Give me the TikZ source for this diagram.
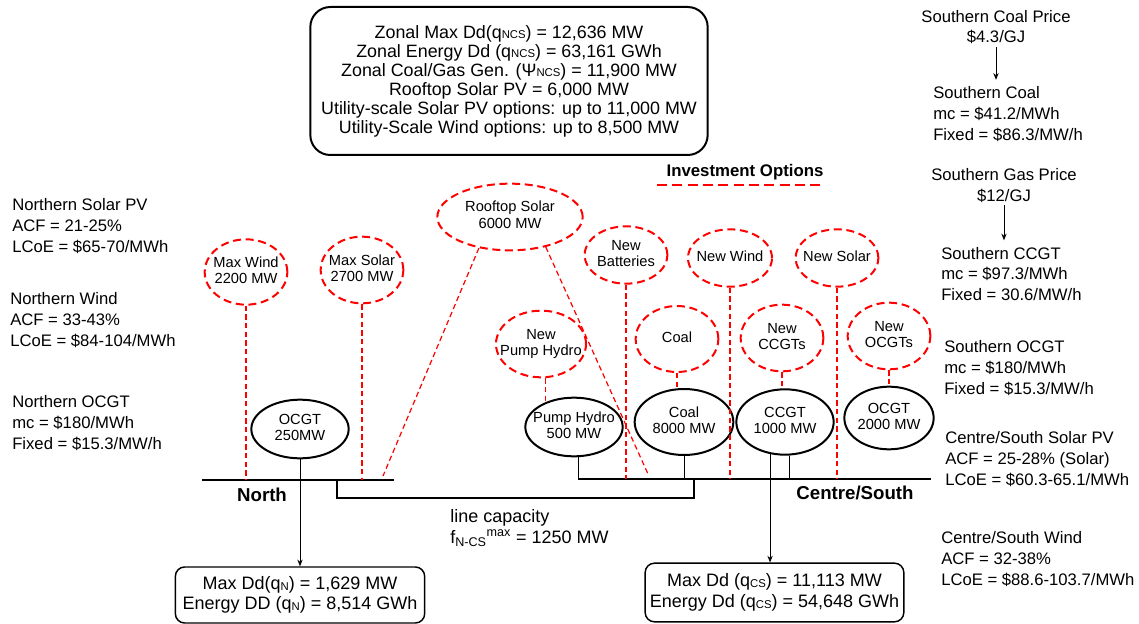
\documentclass[tikz,border=0pt]{standalone}
\usepackage{fontspec}
\setmainfont{Liberation Sans}
\usetikzlibrary{arrows.meta,positioning,shapes.geometric,calc}
\newcommand\sml[1]{{\fontsize{8.5}{8.5}\selectfont\raisebox{-0.6pt}{#1}}}
\newcommand\etxt[1]{\makebox[0pt]{\begin{tabular}{@{}c@{}}#1\end{tabular}}}
\tikzset{
  >={Stealth[length=5pt,width=4pt]},
  invest/.style={ellipse,draw=red,line width=1.5pt,dash pattern=on 6pt off 3.5pt,
    inner sep=0pt,font=\fontsize{11}{12.5}\selectfont,minimum width=62pt,minimum height=43pt},
  plant/.style={ellipse,draw=black,line width=1.5pt,inner sep=0pt,
    font=\fontsize{11}{12.5}\selectfont,minimum width=73pt,minimum height=44pt},
  optlink/.style={draw=red,line width=0.9pt,dash pattern=on 4pt off 2.5pt},
  feed/.style={draw=black,line width=0.6pt},
  bus/.style={draw=black,line width=2.2pt},
  info/.style={anchor=west,align=left,inner sep=0pt,font=\fontsize{12.5}{15.5}\selectfont},
  price/.style={align=center,inner sep=2pt,font=\fontsize{12.5}{15.5}\selectfont},
  zone/.style={font=\fontsize{14}{16}\selectfont\bfseries},
  demand/.style={draw,rounded corners=7pt,line width=1.1pt,align=center,inner sep=2pt,
    font=\fontsize{13.5}{15.5}\selectfont,minimum width=187pt,minimum height=42pt},
}

\begin{document}
\begin{tikzpicture}[x=0.75pt,y=-0.75pt]
    \useasboundingbox (0,0) rectangle (1139,624);
    % system summary
    \node[draw,rounded corners=15pt,line width=1.5pt,minimum width=298pt,minimum height=111pt,
      align=center,font=\fontsize{13.4}{14.25}\selectfont] (zonal) at (509,81)
      {Zonal Max Dd(q\sml{NCS}) = 12,636 MW\\ Zonal Energy Dd (q\sml{NCS}) = 63,161 GWh\\
       Zonal Coal/Gas Gen. (Ψ\sml{NCS}) = 11,900 MW\\ Rooftop Solar PV = 6,000 MW\\
       Utility-scale Solar PV options: up to 11,000 MW\\ Utility-Scale Wind options: up to 8,500 MW};
    % northern data
    \node[info] (nthpv) at (12,226) {Northern Solar PV\\ACF = 21-25\%\\LCoE = \$65-70/MWh};
    \node[info] (nthwind) at (10,320) {Northern Wind\\ACF = 33-43\%\\LCoE = \$84-104/MWh};
    \node[info] (nthocgt) at (12,423) {Northern OCGT\\mc = \$180/MWh\\Fixed = \$15.3/MW/h};
    % southern data
    \node[price] (coalprice) at (996,27) {Southern Coal Price\\\$4.3/GJ};
    \node[info] (sthcoal) at (933,114) {Southern Coal\\mc = \$41.2/MWh\\Fixed = \$86.3/MW/h};
    \node[price] (gasprice) at (1004,185.5) {Southern Gas Price\\\$12/GJ};
    \node[info] (sthccgt) at (941,274) {Southern CCGT\\mc = \$97.3/MWh\\Fixed = 30.6/MW/h};
    \node[info] (sthocgt) at (944,368) {Southern OCGT\\mc = \$180/MWh\\Fixed = \$15.3/MW/h};
    \node[info] (cspv) at (945,459) {Centre/South Solar PV\\ACF = 25-28\% (Solar)\\LCoE = \$60.3-65.1/MWh};
    \node[info] (cswind) at (941,559) {Centre/South Wind\\ACF = 32-38\%\\LCoE = \$88.6-103.7/MWh};
    \draw[feed,->,shorten >=5pt] (coalprice.south) -- (coalprice.south |- sthcoal.north);
    \draw[feed,->,shorten >=5pt] (gasprice.south) -- (gasprice.south |- sthccgt.north);
    % legend
    \node[font=\fontsize{12.6}{14}\selectfont\bfseries] (legend) at (745,172) {Investment Options};
    \coordinate (legW) at (657,185);
    \coordinate (legE) at (821,185);
    \draw[red,line width=2.2pt,dash pattern=on 7.5pt off 4pt] (legW) -- (legE);
    % investment options
    \node[invest,minimum height=49pt] (maxwind) at (246,272) {\etxt{Max Wind\\2200 MW}};
    \node[invest,minimum height=50pt] (maxsolar) at (362,270) {\etxt{Max Solar\\2700 MW}};
    \node[invest,minimum width=109pt,minimum height=50pt] (rooftop) at (510,217) {\etxt{Rooftop Solar\\6000 MW}};
    \node[invest,minimum width=67.5pt,minimum height=50pt] (newph) at (541,344) {\etxt{New\\Pump Hydro}};
    \node[invest] (newbat) at (626,255) {\etxt{New\\Batteries}};
    \node[invest,minimum width=63pt] (newwind) at (730,258) {\etxt{New Wind}};
    \node[invest] (newsolar) at (837,258) {\etxt{New Solar}};
    \node[invest,minimum height=49.5pt] (coalinv) at (677,339) {\etxt{Coal}};
    \node[invest,minimum height=50pt] (newccgt) at (782,338) {\etxt{New\\CCGTs}};
    \node[invest,minimum height=50pt] (newocgt) at (889,336) {\etxt{New\\OCGTs}};
    % existing plant
    \node[plant] (ocgtn) at (300,429) {\etxt{OCGT\\250MW}};
    \node[plant] (phydro) at (574,427) {\etxt{Pump Hydro\\500 MW}};
    \node[plant,minimum width=74pt,minimum height=49.5pt] (coal) at (684,422) {\etxt{Coal\\8000 MW}};
    \node[plant,minimum height=49pt] (ccgt) at (785,422) {\etxt{CCGT\\1000 MW}};
    \node[plant,minimum width=67pt,minimum height=47pt] (ocgts) at (889,418) {\etxt{OCGT\\2000 MW}};
    % buses
    \coordinate (nbusW) at (202,480);
    \coordinate (nbusE) at (394,480);
    \coordinate (cbusW) at (578,479);
    \coordinate (cbusE) at (931,479);
    \coordinate (tieN) at (337,480);
    \coordinate (tieS) at (694,479);
    \draw[bus] (nbusW) -- (nbusE);
    \draw[bus] (cbusW) -- (cbusE);
    \draw[bus] (tieN) -- ++(0,18) -| (tieS);
    \node[zone] (north) at (262,495) {North};
    \node[zone] (centre) at (855,493) {Centre/South};
    % option links
    \coordinate (rfN) at (383,476);
    \coordinate (rfS) at (648,474);
    \draw[optlink] (maxwind.south) -- (maxwind.south |- nbusW);
    \draw[optlink] (maxsolar.south) -- (maxsolar.south |- nbusW);
    \draw[optlink] (rooftop.225) -- (rfN);
    \draw[optlink] (rooftop.320) -- (rfS);
    \draw[optlink] (phydro.139 |- newph.south) -- (phydro.139);
    \draw[optlink] (newbat.south) -- (newbat.south |- cbusW);
    \draw[optlink] (coalinv.south) -- (coalinv.south |- coal.north);
    \draw[optlink] (newwind.south) -- (newwind.south |- cbusW);
    \draw[optlink] (newccgt.south) -- (newccgt.south |- ccgt.north);
    \draw[optlink] (newsolar.south) -- (newsolar.south |- cbusW);
    \draw[optlink] (newocgt.south) -- (newocgt.south |- ocgts.north);
    % demand
    \node[demand] (dmdN) at (300,595) {Max Dd(q\sml{N}) = 1,629 MW\\Energy DD (q\sml{N}) = 8,514 GWh};
    \node[demand,minimum width=194pt,minimum height=44pt] (dmdS) at (774.5,592.5)
      {Max Dd (q\sml{CS}) = 11,113 MW\\Energy Dd (q\sml{CS}) = 54,648 GWh};
    \draw[feed,->] (ocgtn.south) -- (dmdN.north);
    \draw[feed] (cbusW |- phydro.south) -- (cbusW);
    \draw[feed] (coal.south) -- (coal.south |- cbusW);
    \draw[feed,->] (ccgt.245) -- (ccgt.245 |- dmdS.north);
    \draw[feed] (ccgt.277) -- (ccgt.277 |- cbusW);
    \node[anchor=west,align=left,inner sep=0pt,font=\fontsize{13.5}{16}\selectfont] (linecap) at (450,528)
      {line capacity\\f\textsubscript{N-CS}\textsuperscript{max} = 1250 MW};
  \end{tikzpicture}
\end{document}
